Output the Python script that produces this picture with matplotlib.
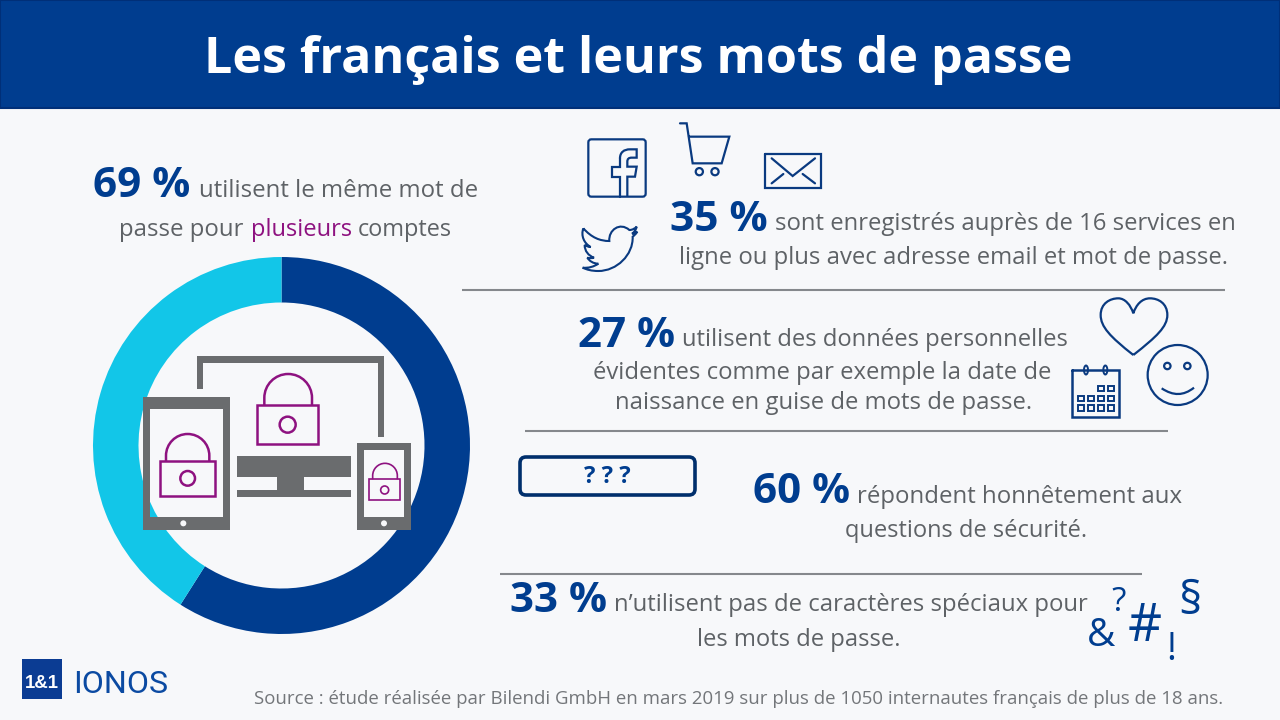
import matplotlib
matplotlib.use('Agg')
import matplotlib.pyplot as plt
from matplotlib.patches import Rectangle, Circle, FancyBboxPatch, PathPatch, Ellipse
from matplotlib.path import Path

# valeurs de l'anneau
anneau_valeurs = [59, 41]
anneau_couleurs = ['#003D8F', '#12C6E8']

titre = 'Les français et leurs mots de passe'
pourcents = ['69 %', '35 %', '27 %', '60 %', '33 %']
source = 'Source : étude réalisée par Bilendi GmbH en mars 2019 sur plus de 1050 internautes français de plus de 18 ans.'

BLEU = '#003D8F'
BLEU_ICONE = '#0A3A80'
GRIS = '#6A6C6E'
TEXTE = '#5E6266'
VIOLET = '#8E1280'
FOND = '#F7F8FA'

plt.rcParams['font.family'] = ['Open Sans', 'DejaVu Sans']

fig = plt.figure(figsize=(12.8, 7.2), dpi=100, facecolor=FOND)
rendu = fig.canvas.get_renderer()

# anneau dans ses propres axes
cx, cy, R = 281.5, 445.5, 188.5
ax_anneau = fig.add_axes([(cx - R) / 1280, 1 - (cy + R) / 720, 2 * R / 1280, 2 * R / 720], zorder=1)
ax_anneau.pie(anneau_valeurs, colors=anneau_couleurs, startangle=90, counterclock=False,
              radius=1, wedgeprops={'width': 1 - 143 / R, 'linewidth': 0})
ax_anneau.set_xlim(-1, 1)
ax_anneau.set_ylim(-1, 1)
ax_anneau.axis('off')

# tout le reste en pixels
ax = fig.add_axes([0, 0, 1, 1], zorder=2)
ax.set_xlim(0, 1280)
ax.set_ylim(720, 0)
ax.axis('off')
ax.patch.set_alpha(0)


def ajuste(x0, x1, y, s, couleur=TEXTE, poids='normal', **kw):
    # ajuste la taille pour que le texte aille de x0 a x1
    t = ax.text(x0, y, s, color=couleur, fontweight=poids, fontsize=20, va='baseline', ha='left', **kw)
    for _ in range(3):
        w = t.get_window_extent(rendu).width
        t.set_fontsize(t.get_fontsize() * (x1 - x0) / w)
    return t


def rect(x0, y0, x1, y1, **kw):
    ax.add_patch(Rectangle((x0, y0), x1 - x0, y1 - y0, **kw))


def trait(points, couleur=BLEU_ICONE, lw=1.6, ferme=False):
    xs = [p[0] for p in points]
    ys = [p[1] for p in points]
    if ferme:
        xs.append(xs[0])
        ys.append(ys[0])
    ax.plot(xs, ys, color=couleur, lw=lw, solid_capstyle='round', solid_joinstyle='miter')


def courbe(dep, segments, ox, oy, lw=1.6, couleur=BLEU_ICONE):
    # chemin de beziers donne en coordonnees de zoom (x3)
    verts = [(ox + dep[0] / 3, oy + dep[1] / 3)]
    codes = [Path.MOVETO]
    for s in segments:
        for p in s:
            verts.append((ox + p[0] / 3, oy + p[1] / 3))
            codes.append(Path.CURVE4 if len(s) == 3 else Path.LINETO)
    ax.add_patch(PathPatch(Path(verts, codes), fill=False, edgecolor=couleur, lw=lw))


# bandeau du titre
rect(0, 0, 1280, 108, facecolor=BLEU, edgecolor='#002F78', lw=1.5)
ajuste(204, 1075, 73, titre, couleur='white', poids='bold')

# textes
ajuste(93, 190, 197, pourcents[0], couleur=BLEU, poids='bold')
ajuste(199, 477, 197, 'utilisent le même mot de')
ajuste(119, 244, 236, 'passe pour')
ajuste(251, 352, 236, 'plusieurs', couleur=VIOLET)
ajuste(358, 452, 236, 'comptes')

ajuste(670, 768, 231, pourcents[1], couleur=BLEU, poids='bold')
ajuste(775, 1235, 230, 'sont enregistrés auprès de 16 services en')
ajuste(679, 1227, 264, 'ligne ou plus avec adresse email et mot de passe.')

ajuste(578, 675, 347, pourcents[2], couleur=BLEU, poids='bold')
ajuste(682, 1068, 346, 'utilisent des données personnelles')
ajuste(593, 1052, 379, 'évidentes comme par exemple la date de')
ajuste(615, 1031, 409, 'naissance en guise de mots de passe.')

ajuste(753, 850, 503, pourcents[3], couleur=BLEU, poids='bold')
ajuste(857, 1181, 503, 'répondent honnêtement aux')
ajuste(845, 1087, 537, 'questions de sécurité.')

ajuste(510, 607, 612, pourcents[4], couleur=BLEU, poids='bold')
ajuste(614, 1086, 611, 'n’utilisent pas de caractères spéciaux pour')
ajuste(697, 899, 646, 'les mots de passe.')

ajuste(254, 1224, 704, source, couleur='#73767A')

# lignes de separation
for x0, x1, y in [(462, 1225, 290), (525, 1168, 431), (500, 1142, 574)]:
    ax.plot([x0, x1], [y, y], color='#85888C', lw=1.5, solid_capstyle='butt')

# champ ? ? ?
ax.add_patch(FancyBboxPatch((520, 457), 175, 38, boxstyle='round,pad=0,rounding_size=6',
                            facecolor=FOND, edgecolor='#002F6C', lw=2.6))
ajuste(584, 630, 483, '? ? ?', couleur=BLEU, poids='bold')

# symboles
ax.text(1087, 646, '&', color=BLEU, fontsize=28, va='baseline')
ax.text(1111, 611, '?', color=BLEU, fontsize=24, va='baseline')
ax.text(1128, 641, '#', color=BLEU, fontsize=38, va='baseline')
ax.text(1178, 614, '§', color=BLEU, fontsize=33, va='baseline')
ax.text(1166, 660, '!', color=BLEU, fontsize=27, va='baseline')

# appareils
ox, oy = 130, 340


def z(x, y):
    return (ox + x / 3, oy + y / 3)


def cadre(x0, y0, x1, y1, ex0, ey0, ex1, ey1):
    # cadre gris avec ecran transparent
    a, b = z(x0, y0), z(x1, y1)
    c, d = z(ex0, ey0), z(ex1, ey1)
    verts = [a, (b[0], a[1]), b, (a[0], b[1]), a, c, (c[0], d[1]), d, (d[0], c[1]), c]
    codes = [Path.MOVETO] + [Path.LINETO] * 3 + [Path.CLOSEPOLY] + [Path.MOVETO] + [Path.LINETO] * 3 + [Path.CLOSEPOLY]
    ax.add_patch(PathPatch(Path(verts, codes), facecolor=GRIS, edgecolor='none'))


def cadenas(x0, y0, x1, y1, sx0, sx1, stop, ccx, ccy, r, lw=1.8):
    a, b = z(x0, y0), z(x1, y1)
    ax.add_patch(Rectangle(a, b[0] - a[0], b[1] - a[1], fill=False, edgecolor=VIOLET, lw=lw))
    k = 0.5523
    mx = (sx0 + sx1) / 2
    hw = (sx1 - sx0) / 2
    # anse : droite puis demi-cercle
    courbe((sx0, y0), [[(sx0, stop + hw)],
                       [(sx0, stop + hw - hw * k), (mx - hw * k, stop), (mx, stop)],
                       [(mx + hw * k, stop), (sx1, stop + hw - hw * k), (sx1, stop + hw)],
                       [(sx1, y0)]], ox, oy, lw=lw, couleur=VIOLET)
    ax.add_patch(Circle(z(ccx, ccy), r / 3, fill=False, edgecolor=VIOLET, lw=lw))


rect(*z(200, 48), *z(762, 68), facecolor=GRIS, lw=0)
rect(*z(200, 48), *z(220, 148), facecolor=GRIS, lw=0)
rect(*z(743, 48), *z(762, 290), facecolor=GRIS, lw=0)
rect(*z(320, 348), *z(662, 410), facecolor=GRIS, lw=0)
rect(*z(441, 410), *z(521, 450), facecolor=GRIS, lw=0)
rect(*z(320, 450), *z(662, 470), facecolor=GRIS, lw=0)

cadre(40, 170, 300, 570, 60, 208, 280, 530)
ax.add_patch(Circle(z(160, 550), 3, facecolor=FOND, lw=0))
cadre(682, 310, 842, 570, 702, 330, 823, 530)
ax.add_patch(Circle(z(762, 550), 3, facecolor=FOND, lw=0))

cadenas(381, 195, 565, 312, 403, 546, 102, 473, 254, 24)
cadenas(90, 363, 256, 467, 108, 238, 282, 173, 415, 22)
cadenas(716, 418, 811, 480, 728, 802, 370, 764, 450, 12, lw=1.2)

# facebook, caddie, enveloppe, twitter
ox, oy = 570, 115
ax.add_patch(FancyBboxPatch(z(55, 73), 172 / 3, 172 / 3, boxstyle='round,pad=0,rounding_size=3',
                            fill=False, edgecolor=BLEU_ICONE, lw=1.6))
trait([z(*p) for p in [(150, 245), (150, 185), (127, 185), (127, 155), (150, 155), (150, 130)]])
courbe((150, 130), [[(150, 112), (162, 103), (180, 103)], [(200, 103)], [(200, 128)], [(185, 128)],
                    [(176, 128), (172, 132), (172, 140)], [(172, 155)], [(200, 155)], [(195, 185)],
                    [(172, 185)], [(172, 245)]], ox, oy)
trait([z(*p) for p in [(330, 25), (350, 25), (368, 145), (455, 145), (478, 65), (357, 65)]])
ax.add_patch(Circle(z(388, 170), 3.6, fill=False, edgecolor=BLEU_ICONE, lw=1.6))
ax.add_patch(Circle(z(435, 170), 3.6, fill=False, edgecolor=BLEU_ICONE, lw=1.6))
trait([z(*p) for p in [(585, 116), (753, 116), (753, 218), (585, 218)]], ferme=True)
trait([z(*p) for p in [(605, 130), (668, 183), (735, 130)]])
trait([z(*p) for p in [(605, 205), (640, 177)]])
trait([z(*p) for p in [(735, 205), (698, 177)]])
courbe((40, 340), [[(65, 368), (90, 378), (118, 378)],
                   [(115, 345), (150, 320), (178, 345)],
                   [(188, 345), (195, 340), (200, 335)],
                   [(198, 345), (192, 352), (186, 356)],
                   [(192, 356), (198, 352), (202, 350)],
                   [(197, 358), (192, 362), (188, 365)],
                   [(190, 420), (140, 468), (85, 468)],
                   [(65, 468), (50, 464), (38, 458)],
                   [(55, 460), (72, 455), (85, 446)],
                   [(70, 446), (58, 438), (52, 428)],
                   [(58, 430), (65, 430), (72, 428)],
                   [(55, 422), (44, 408), (44, 390)],
                   [(50, 394), (56, 396), (62, 396)],
                   [(42, 385), (32, 362), (40, 340)]], ox, oy, lw=1.5)

# coeur, sourire, calendrier
ox, oy = 1060, 290
courbe((220, 195), [[(150, 140), (122, 110), (122, 75)],
                    [(122, 40), (150, 25), (175, 25)],
                    [(195, 25), (212, 45), (220, 70)],
                    [(228, 45), (245, 25), (270, 25)],
                    [(295, 25), (322, 40), (322, 75)],
                    [(322, 110), (290, 140), (220, 195)]], ox, oy)
ax.add_patch(Circle(z(353, 255), 30, fill=False, edgecolor=BLEU_ICONE, lw=1.6))
ax.add_patch(Circle(z(322, 228), 3.2, fill=False, edgecolor=BLEU_ICONE, lw=1.6))
ax.add_patch(Circle(z(382, 228), 3.2, fill=False, edgecolor=BLEU_ICONE, lw=1.6))
courbe((305, 295), [[(340, 318), (370, 318), (402, 293)]], ox, oy)
trait([z(*p) for p in [(35, 240), (178, 240), (178, 382), (35, 382)]], ferme=True, lw=1.8)
for px in [78, 136]:
    ax.add_patch(Ellipse(z(px, 240), 4, 9, facecolor=FOND, edgecolor=BLEU_ICONE, lw=1.4))
for py, colonnes in [(295, [122, 152]), (325, [62, 92, 122, 152]), (353, [62, 92, 122, 152])]:
    for px in colonnes:
        ax.add_patch(Rectangle(z(px - 9, py - 8), 6, 5.5, fill=False, edgecolor=BLEU_ICONE, lw=1.4))

# logo
rect(22, 659, 62, 699, facecolor='#0B3C93', lw=0)
ajuste(25, 59, 688, '1&1', couleur='white', poids='bold', family='Liberation Sans')
ajuste(73, 168, 693, 'IONOS', couleur='#0B4AA2', family='Roboto', )

fig.savefig('out.png', dpi=100, facecolor=FOND)
